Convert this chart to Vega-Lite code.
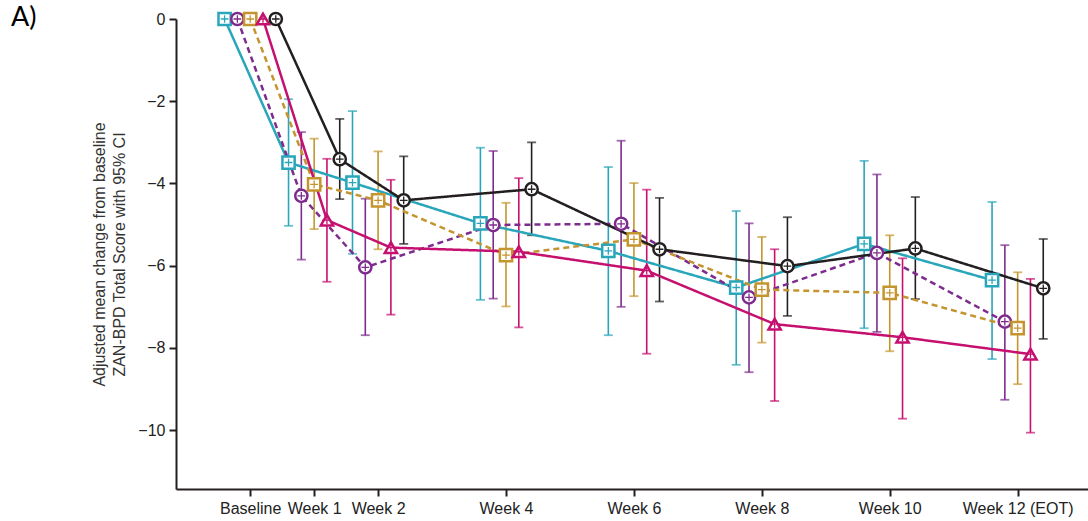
{
  "$schema": "https://vega.github.io/schema/vega-lite/v6.json",
  "autosize": {"type": "none"},
  "width": 912,
  "height": 470,
  "padding": {"left": 176, "top": 19, "right": 0, "bottom": 32},
  "background": "white",
  "title": {"text": "A)", "anchor": "start", "frame": "group", "orient": "top", "font": "Lato", "fontSize": 27, "fontWeight": "normal", "color": "#000000", "baseline": "alphabetic", "offset": 0, "dx": -165, "dy": 45},
  "config": {"view": {"stroke": null}, "font": "Liberation Sans"},
  "data": {"values": [
    {"group": "A", "week": 0, "mean": 0, "lo": null, "hi": null},
    {"group": "A", "week": 1, "mean": -3.49, "lo": -5.03, "hi": -1.95},
    {"group": "A", "week": 2, "mean": -3.98, "lo": -5.71, "hi": -2.24},
    {"group": "A", "week": 4, "mean": -4.97, "lo": -6.83, "hi": -3.13},
    {"group": "A", "week": 6, "mean": -5.64, "lo": -7.69, "hi": -3.60},
    {"group": "A", "week": 8, "mean": -6.53, "lo": -8.41, "hi": -4.67},
    {"group": "A", "week": 10, "mean": -5.47, "lo": -7.52, "hi": -3.45},
    {"group": "A", "week": 12, "mean": -6.35, "lo": -8.27, "hi": -4.45},
    {"group": "B", "week": 0, "mean": 0, "lo": null, "hi": null},
    {"group": "B", "week": 1, "mean": -4.30, "lo": -5.85, "hi": -2.75},
    {"group": "B", "week": 2, "mean": -6.04, "lo": -7.69, "hi": -4.37},
    {"group": "B", "week": 4, "mean": -5.01, "lo": -6.80, "hi": -3.21},
    {"group": "B", "week": 6, "mean": -4.98, "lo": -7.00, "hi": -2.96},
    {"group": "B", "week": 8, "mean": -6.77, "lo": -8.59, "hi": -4.97},
    {"group": "B", "week": 10, "mean": -5.69, "lo": -7.61, "hi": -3.78},
    {"group": "B", "week": 12, "mean": -7.36, "lo": -9.26, "hi": -5.50},
    {"group": "C", "week": 0, "mean": 0, "lo": null, "hi": null},
    {"group": "C", "week": 1, "mean": -4.02, "lo": -5.11, "hi": -2.91},
    {"group": "C", "week": 2, "mean": -4.41, "lo": -5.60, "hi": -3.22},
    {"group": "C", "week": 4, "mean": -5.74, "lo": -6.99, "hi": -4.47},
    {"group": "C", "week": 6, "mean": -5.36, "lo": -6.74, "hi": -3.99},
    {"group": "C", "week": 8, "mean": -6.58, "lo": -7.87, "hi": -5.30},
    {"group": "C", "week": 10, "mean": -6.66, "lo": -8.08, "hi": -5.26},
    {"group": "C", "week": 12, "mean": -7.52, "lo": -8.88, "hi": -6.16},
    {"group": "D", "week": 0, "mean": 0, "lo": null, "hi": null},
    {"group": "D", "week": 1, "mean": -4.89, "lo": -6.39, "hi": -3.40},
    {"group": "D", "week": 2, "mean": -5.56, "lo": -7.19, "hi": -3.91},
    {"group": "D", "week": 4, "mean": -5.66, "lo": -7.50, "hi": -3.87},
    {"group": "D", "week": 6, "mean": -6.12, "lo": -8.14, "hi": -4.15},
    {"group": "D", "week": 8, "mean": -7.42, "lo": -9.29, "hi": -5.60},
    {"group": "D", "week": 10, "mean": -7.74, "lo": -9.72, "hi": -5.82},
    {"group": "D", "week": 12, "mean": -8.15, "lo": -10.06, "hi": -6.32},
    {"group": "E", "week": 0, "mean": 0, "lo": null, "hi": null},
    {"group": "E", "week": 1, "mean": -3.41, "lo": -4.38, "hi": -2.43},
    {"group": "E", "week": 2, "mean": -4.41, "lo": -5.47, "hi": -3.34},
    {"group": "E", "week": 4, "mean": -4.14, "lo": -5.26, "hi": -3.00},
    {"group": "E", "week": 6, "mean": -5.60, "lo": -6.87, "hi": -4.35},
    {"group": "E", "week": 8, "mean": -6.01, "lo": -7.22, "hi": -4.82},
    {"group": "E", "week": 10, "mean": -5.58, "lo": -6.81, "hi": -4.33},
    {"group": "E", "week": 12, "mean": -6.55, "lo": -7.78, "hi": -5.35}
  ]},
  "params": [
    {"name": "dodge", "expr": "{'A': -25.6, 'B': -12.8, 'C': 0, 'D': 12.8, 'E': 25.6}"}
  ],
  "encoding": {
    "x": {"field": "week", "type": "quantitative",
      "scale": {"domain": [-1.16, 13.1], "nice": false, "zero": false},
      "axis": {"values": [0, 1, 2, 4, 6, 8, 10, 12], "title": null, "grid": false,
        "labelExpr": "datum.value == 0 ? 'Baseline' : datum.value == 12 ? 'Week 12 (EOT)' : 'Week ' + datum.value",
        "labelFontSize": 16, "labelColor": "#222222", "labelPadding": 4,
        "tickSize": 7, "tickWidth": 2, "tickColor": "#231F20",
        "domainWidth": 2, "domainColor": "#231F20", "labelFlush": false}},
    "color": {"field": "group", "type": "nominal", "legend": null,
      "scale": {"domain": ["A", "B", "C", "D", "E"], "range": ["#29A6BA", "#7E2B8E", "#C4952E", "#C5106F", "#231F20"]}}
  },
  "layer": [
    {"mark": {"type": "rule", "strokeWidth": 1.6, "xOffset": {"expr": "dodge[datum.group]"}},
     "encoding": {"y": {"field": "lo", "type": "quantitative"}, "y2": {"field": "hi"}}},
    {"mark": {"type": "tick", "orient": "horizontal", "size": 9, "thickness": 1.8, "xOffset": {"expr": "dodge[datum.group]"}},
     "encoding": {"y": {"field": "lo", "type": "quantitative"}}},
    {"mark": {"type": "tick", "orient": "horizontal", "size": 9, "thickness": 1.8, "xOffset": {"expr": "dodge[datum.group]"}},
     "encoding": {"y": {"field": "hi", "type": "quantitative"}}},
    {"mark": {"type": "line", "strokeWidth": 2.5, "xOffset": {"expr": "dodge[datum.group]"}},
     "encoding": {
       "y": {"field": "mean", "type": "quantitative",
         "scale": {"domain": [-11.43, 0], "nice": false, "zero": false},
         "axis": {"values": [0, -2, -4, -6, -8, -10], "grid": false,
           "title": ["Adjusted mean change from baseline", "ZAN-BPD Total Score with 95% CI"],
           "titleFontSize": 16, "titleFontWeight": "normal", "titleColor": "#333333", "titlePadding": 10, "titleLineHeight": 20,
           "labelFontSize": 16, "labelColor": "#222222", "labelPadding": 4,
           "tickSize": 7, "tickWidth": 2, "tickColor": "#231F20",
           "domainWidth": 2, "domainColor": "#231F20"}},
       "strokeDash": {"field": "group", "type": "nominal", "legend": null,
         "scale": {"domain": ["A", "B", "C", "D", "E"], "range": [[1, 0], [6, 4], [6, 4], [1, 0], [1, 0]]}}
     }},
    {"mark": {"type": "point", "filled": false, "fill": "white", "fillOpacity": 1, "strokeWidth": 2.5, "opacity": 1, "size": 150, "xOffset": {"expr": "dodge[datum.group]"}},
     "encoding": {
       "y": {"field": "mean", "type": "quantitative"},
       "shape": {"field": "group", "type": "nominal", "legend": null,
         "scale": {"domain": ["A", "B", "C", "D", "E"], "range": ["square", "circle", "square", "triangle-up", "circle"]}}
     }},
    {"mark": {"type": "point", "filled": false, "strokeWidth": 1.3, "opacity": 1, "size": 60, "shape": "M-1,0L1,0M0,-1L0,1", "xOffset": {"expr": "dodge[datum.group]"}},
     "encoding": {"y": {"field": "mean", "type": "quantitative"}}}
  ]
}
